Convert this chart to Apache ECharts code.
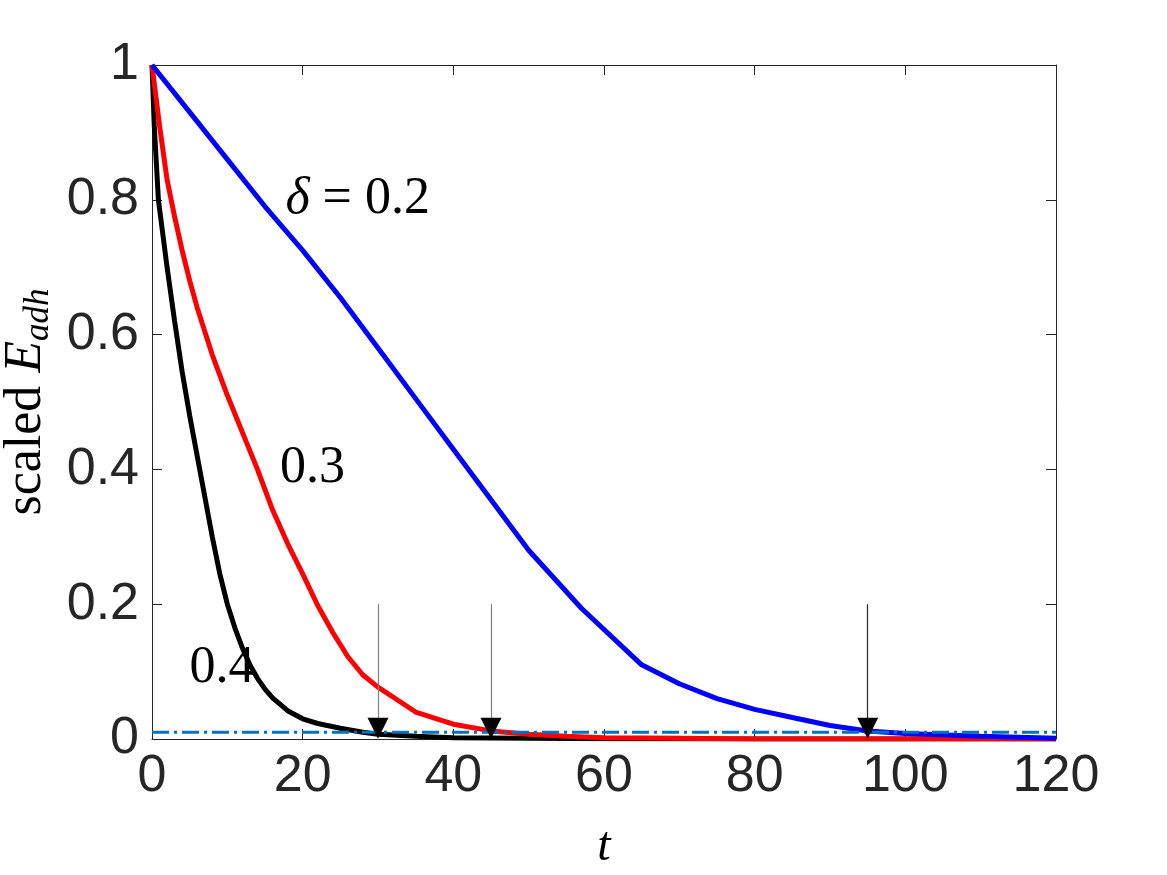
<!DOCTYPE html>
<html>
<head>
<meta charset="UTF-8">
<title>scaled E_adh</title>
<script src="https://cdn.jsdelivr.net/npm/echarts@6/dist/echarts.min.js"></script>
<style>
  html, body { margin: 0; padding: 0; background: #fff; }
  #main { width: 1167px; height: 875px; }
</style>
</head>
<body>
<div id="main"></div>
<script type="text/javascript">
// delta = 0.4 (black)
var tBlack = [0, 0.3, 0.85, 2, 3, 4, 5, 6, 7, 8, 9, 10, 11, 12, 13, 14, 15, 16, 18, 20, 22, 25, 28, 30, 35, 40, 50, 60, 80, 100, 120];
var eBlack = [1, 0.91, 0.8, 0.70, 0.62, 0.545, 0.48, 0.42, 0.36, 0.30, 0.245, 0.20, 0.165, 0.135, 0.11, 0.09, 0.074, 0.061, 0.042, 0.03, 0.023, 0.016, 0.01, 0.007, 0.004, 0.002, 0.001, 0.0005, 0, 0, 0];
// delta = 0.3 (red)
var tRed = [0, 1, 2, 3, 4, 5, 6, 7, 8, 10, 12, 14, 16, 18, 20, 22, 24, 26, 28, 30, 35, 40, 45, 50, 55, 60, 70, 80, 100, 120];
var eRed = [1, 0.91, 0.83, 0.775, 0.725, 0.68, 0.64, 0.605, 0.57, 0.51, 0.455, 0.40, 0.34, 0.29, 0.245, 0.198, 0.158, 0.122, 0.095, 0.077, 0.04, 0.022, 0.012, 0.007, 0.004, 0.002, 0.001, 0, 0, 0];
// delta = 0.2 (blue)
var tBlue = [0, 5, 10, 15, 20, 25, 30, 35, 40, 45, 50, 57, 65, 70, 75, 80, 85, 90, 95, 100, 110, 120];
var eBlue = [1, 0.93, 0.86, 0.79, 0.725, 0.655, 0.58, 0.505, 0.43, 0.355, 0.28, 0.194, 0.11, 0.082, 0.06, 0.044, 0.032, 0.02, 0.012, 0.008, 0.004, 0.001];
// threshold and arrows
var threshold = 0.01;
var arrowT = [30, 45, 95];
var arrowTop = 0.2;
var arrowHead = 0.016;
var arrowColors = ['#808080', '#808080', '#262626'];
var xTicks = { min: 0, max: 120, interval: 20 };
var yTicks = { min: 0, max: 1, interval: 0.2 };

function zip(a, b) {
  var out = [];
  for (var i = 0; i < a.length; i++) out.push([a[i], b[i]]);
  return out;
}

var myChart = echarts.init(document.getElementById('main'));

var axisCol = '#262626';
var tickFont = 'Liberation Sans, Arial, Helvetica, sans-serif';
var serif = 'Liberation Serif, Times New Roman, serif';

var arrowLines = [];
var arrowHeads = [];
for (var i = 0; i < arrowT.length; i++) {
  arrowLines.push([
    { coord: [arrowT[i], arrowTop], lineStyle: { color: arrowColors[i] } },
    { coord: [arrowT[i], arrowHead], lineStyle: { color: arrowColors[i] } }
  ]);
  arrowHeads.push([arrowT[i], arrowHead]);
}

function baseAxis(pos, o) {
  return {
    type: 'value',
    position: pos,
    min: o.min, max: o.max, interval: o.interval,
    axisLine: { show: true, onZero: false, lineStyle: { color: axisCol, width: 1 } },
    axisTick: { show: true, inside: true, length: 10, lineStyle: { color: axisCol, width: 1 } },
    splitLine: { show: false }
  };
}

var xBottom = baseAxis('bottom', xTicks);
xBottom.axisLabel = { color: axisCol, fontSize: 52, fontFamily: tickFont, margin: 12 };
xBottom.name = 't';
xBottom.nameLocation = 'middle';
xBottom.nameGap = 84;
xBottom.nameTextStyle = { fontFamily: serif, fontStyle: 'italic', fontSize: 48, color: '#000' };
var xTop = baseAxis('top', xTicks);
xTop.axisLabel = { show: false };

var yLeft = baseAxis('left', yTicks);
yLeft.axisLabel = { color: axisCol, fontSize: 52, fontFamily: tickFont, margin: 13 };
yLeft.name = '{n|scaled }{e|E}{s|adh}';
yLeft.nameLocation = 'middle';
yLeft.nameGap = 96;
yLeft.nameTextStyle = {
  color: '#000',
  rich: {
    n: { fontFamily: serif, fontSize: 52, color: '#000' },
    e: { fontFamily: serif, fontSize: 52, fontStyle: 'italic', color: '#000' },
    s: { fontFamily: serif, fontSize: 35, fontStyle: 'italic', color: '#000', padding: [24, 0, 0, 0] }
  }
};
var yRight = baseAxis('right', yTicks);
yRight.axisLabel = { show: false };

var option = {
  backgroundColor: '#fff',
  animation: false,
  grid: { left: 152, right: 111, top: 65, bottom: 136, containLabel: false, outerBoundsMode: 'none' },
  xAxis: [xBottom, xTop],
  yAxis: [yLeft, yRight],
  series: [
    { name: '0.4', type: 'line', data: zip(tBlack, eBlack), showSymbol: false, smooth: false,
      lineStyle: { color: '#000000', width: 5 }, z: 3 },
    { name: '0.3', type: 'line', data: zip(tRed, eRed), showSymbol: false,
      lineStyle: { color: '#ff0000', width: 5 }, z: 4 },
    { name: '0.2', type: 'line', data: zip(tBlue, eBlue), showSymbol: false,
      lineStyle: { color: '#0000ff', width: 5 }, z: 5 },
    { name: 'threshold', type: 'line', data: [[xTicks.min, threshold], [xTicks.max, threshold]], showSymbol: false,
      lineStyle: { color: '#0072BD', width: 3, type: [17, 5, 3, 5] }, z: 6 },
    { name: 'arrows', type: 'line', data: [], z: 7,
      markLine: { silent: true, animation: false, symbol: ['none', 'none'], label: { show: false },
        lineStyle: { type: 'solid', width: 1.2 },
        data: arrowLines } },
    { name: 'heads', type: 'scatter', data: arrowHeads, symbol: 'triangle', symbolRotate: 180,
      symbolSize: [21, 21], itemStyle: { color: '#000', opacity: 1 }, z: 8 },
    { name: 'labels', type: 'scatter', symbolSize: 0, z: 9,
      itemStyle: { opacity: 1 },
      data: [
        { value: [27.3, 0.8], label: { formatter: '{d|δ} = 0.2' } },
        { value: [21.3, 0.402], label: { formatter: '0.3' } },
        { value: [9.3, 0.105], label: { formatter: '0.4' } }
      ],
      label: { show: true, position: 'inside', fontFamily: serif, fontSize: 52, color: '#000',
        rich: { d: { fontFamily: serif, fontSize: 52, fontStyle: 'italic', color: '#000' } } }
    }
  ]
};
myChart.setOption(option);
</script>
</body>
</html>
